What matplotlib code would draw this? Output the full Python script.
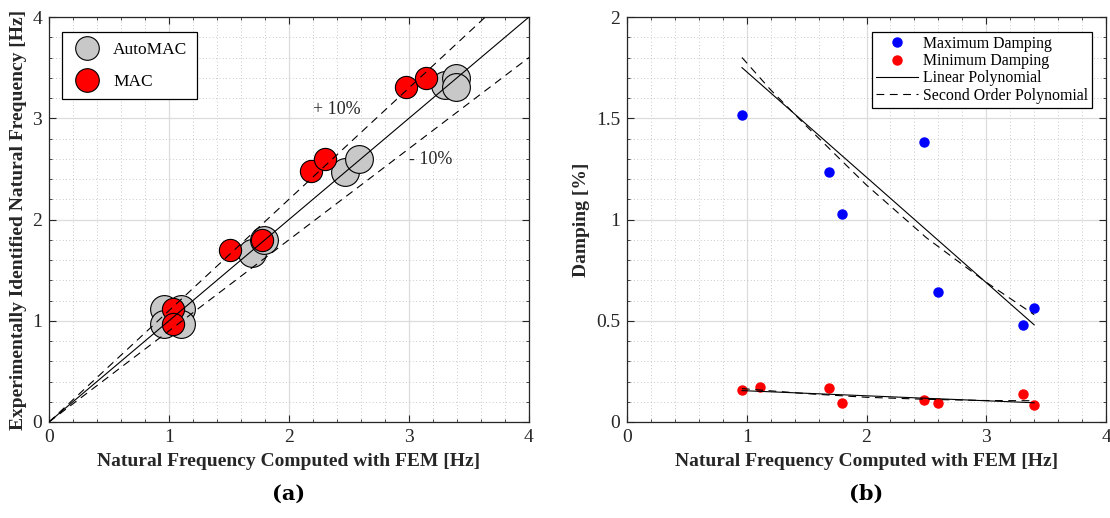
import matplotlib
matplotlib.use('Agg')
import matplotlib.pyplot as plt
from matplotlib.lines import Line2D
from matplotlib.ticker import MultipleLocator
import numpy as np

# (a) FEM vs identified natural frequency [Hz]
automac_fem = [0.96, 1.10, 0.96, 1.10, 1.69, 1.79, 2.47, 2.585, 3.30, 3.39, 3.39]
automac_exp = [1.12, 1.12, 0.97, 0.97, 1.665, 1.80, 2.47, 2.60, 3.33, 3.40, 3.31]
mac_fem = [1.03, 1.03, 1.51, 1.775, 2.18, 2.30, 2.975, 3.145]
mac_exp = [1.12, 0.97, 1.70, 1.80, 2.48, 2.60, 3.31, 3.40]
ref_x = np.array([0.0, 4.0])
tol = 0.10

# (b) damping vs FEM frequency
fem_freq = [0.961, 1.69, 1.796, 2.476, 2.593, 3.311, 3.402]
max_damp = [1.517, 1.233, 1.029, 1.383, 0.641, 0.478, 0.564]
fem_freq_min = [0.961, 1.108, 1.69, 1.796, 2.476, 2.593, 3.311, 3.402]
min_damp = [0.157, 0.173, 0.170, 0.094, 0.110, 0.094, 0.140, 0.082]
lin_max_x = [0.96, 3.40]
lin_max_y = [1.75, 0.48]
quad_max_x = [0.96, 1.2, 1.5, 2.0, 2.5, 3.0, 3.4]
quad_max_y = [1.80, 1.64, 1.46, 1.17, 0.91, 0.69, 0.53]
lin_min_x = [0.96, 3.40]
lin_min_y = [0.155, 0.095]
quad_min_x = [0.96, 1.5, 2.0, 2.5, 3.0, 3.4]
quad_min_y = [0.165, 0.140, 0.122, 0.112, 0.106, 0.105]

serif = ['Liberation Serif', 'DejaVu Serif']
plt.rcParams['font.family'] = serif

fig = plt.figure(figsize=(11.10, 5.18), dpi=100)
ax1 = fig.add_axes([49/1110, 1-422/518, 480/1110, 405/518])
ax2 = fig.add_axes([627/1110, 1-422/518, 479/1110, 405/518])
fmt = plt.FuncFormatter(lambda v, p: '%g' % v)
dash = (0, (7, 5))


def style(ax, ymax, ymaj, ymin):
    ax.set_xlim(0, 4)
    ax.set_ylim(0, ymax)
    ax.xaxis.set_major_locator(MultipleLocator(1))
    ax.xaxis.set_minor_locator(MultipleLocator(0.2))
    ax.yaxis.set_major_locator(MultipleLocator(ymaj))
    ax.yaxis.set_minor_locator(MultipleLocator(ymin))
    ax.xaxis.set_major_formatter(fmt)
    ax.yaxis.set_major_formatter(fmt)
    ax.grid(which='major', color='#dcdcdc', lw=0.9)
    ax.grid(which='minor', color='#b8b8b8', ls=(0, (1, 3)), lw=0.6)
    ax.set_axisbelow(True)
    ax.tick_params(which='both', direction='in', top=True, right=True,
                   colors='#262626', labelsize=14, labelcolor='#262626')
    ax.tick_params(which='major', length=5, width=0.8, pad=5)
    ax.tick_params(which='minor', length=2.5, width=0.6)
    for s in ax.spines.values():
        s.set_color('#262626')
        s.set_linewidth(0.9)
    ax.set_xlabel('Natural Frequency Computed with FEM [Hz]', fontsize=14,
                  fontweight='bold', labelpad=5, color='#262626')


style(ax1, 4, 1, 0.2)
ax1.plot(automac_fem, automac_exp, 'o', ms=20, mfc='#c8c8c8', mec='black', mew=0.8, zorder=3)
ax1.plot(mac_fem, mac_exp, 'o', ms=16, mfc='#ff0000', mec='black', mew=0.8, zorder=4)
ax1.plot(ref_x, ref_x, '-', color='black', lw=0.8, zorder=5)
ax1.plot(ref_x, ref_x * (1 + tol), color='black', lw=0.8, ls=dash, zorder=5)
ax1.plot(ref_x, ref_x * (1 - tol), color='black', lw=0.8, ls=dash, zorder=5)
ax1.text(2.2, 3.09, '+ 10%', fontsize=13, va='center', ha='left', color='#262626')
ax1.text(3.0, 2.59, '- 10%', fontsize=13, va='center', ha='left', color='#262626')
ax1.set_ylabel('Experimentally Identified Natural Frequency [Hz]', fontsize=14,
               fontweight='bold', labelpad=4, color='#262626')
h1 = [Line2D([], [], ls='none', marker='o', ms=17, mfc='#c8c8c8', mec='black', mew=0.8),
      Line2D([], [], ls='none', marker='o', ms=17, mfc='#ff0000', mec='black', mew=0.8)]
leg1 = ax1.legend(h1, ['AutoMAC', 'MAC'], loc='upper left', bbox_to_anchor=(0.027, 0.962),
                  fontsize=12.5, fancybox=False, framealpha=1, edgecolor='black',
                  handlelength=1.8, handletextpad=0.6, borderpad=0.55, labelspacing=0.9,
                  borderaxespad=0)
leg1.get_frame().set_linewidth(0.9)
leg1.set_zorder(10)

style(ax2, 2, 0.5, 0.1)
ax2.plot(fem_freq, max_damp, 'o', ms=6.5, color='#0000ff', zorder=3)
ax2.plot(fem_freq_min, min_damp, 'o', ms=6.5, color='#ff0000', zorder=3)
ax2.plot(lin_max_x, lin_max_y, '-', color='black', lw=0.8, zorder=4)
ax2.plot(quad_max_x, quad_max_y, color='black', lw=0.8, ls=dash, zorder=4)
ax2.plot(lin_min_x, lin_min_y, '-', color='black', lw=0.8, zorder=4)
ax2.plot(quad_min_x, quad_min_y, color='black', lw=0.8, ls=dash, zorder=4)
ax2.set_ylabel('Damping [%]', fontsize=14, fontweight='bold', labelpad=4, color='#262626')
h2 = [Line2D([], [], ls='none', marker='o', ms=6.5, color='#0000ff'),
      Line2D([], [], ls='none', marker='o', ms=6.5, color='#ff0000'),
      Line2D([], [], color='black', lw=0.8),
      Line2D([], [], color='black', lw=0.8, ls=dash)]
leg2 = ax2.legend(h2, ['Maximum Damping', 'Minimum Damping', 'Linear Polynomial',
                       'Second Order Polynomial'],
                  loc='upper right', bbox_to_anchor=(0.971, 0.963), fontsize=11.4,
                  fancybox=False, framealpha=1, edgecolor='black', handlelength=2.65,
                  handletextpad=0.3, borderpad=0.25, borderaxespad=0, labelspacing=0.08)
leg2.get_frame().set_linewidth(0.9)

fig.text(289/1110, 1-494/518, '(a)', fontsize=15, fontweight='bold',
         family='DejaVu Serif', ha='center', va='center')
fig.text(866/1110, 1-494/518, '(b)', fontsize=15, fontweight='bold',
         family='DejaVu Serif', ha='center', va='center')

fig.savefig('out.png', dpi=100)
